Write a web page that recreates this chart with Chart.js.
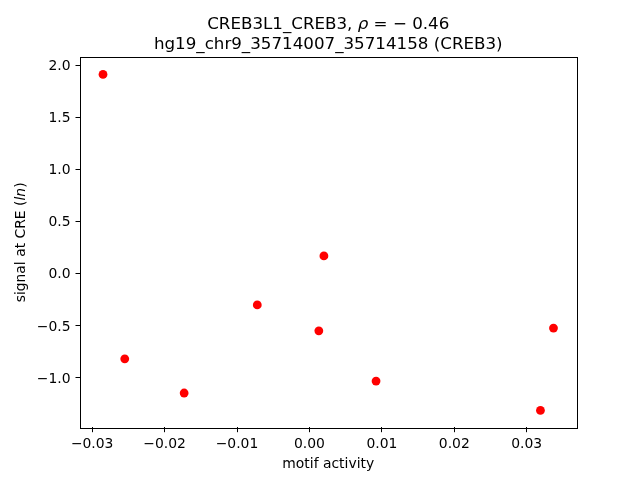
<!DOCTYPE html>
<html>
<head>
<meta charset="utf-8">
<script src="https://cdn.jsdelivr.net/npm/chart.js@4.4.1/dist/chart.umd.min.js"></script>
<style>
  html, body { margin: 0; padding: 0; background: #ffffff; }
  #wrap { width: 640px; height: 480px; }
</style>
</head>
<body>
<div id="wrap"><canvas id="c" width="640" height="480"></canvas></div>
<script>
// ---- data ----
const motifActivity = [-0.0285, -0.0255, -0.0173, -0.0072, 0.0013, 0.0020, 0.0092, 0.0319, 0.0337];
const signalAtCRE   = [1.917, -0.816, -1.145, -0.298, -0.547, 0.173, -1.030, -1.312, -0.521];
const xTickValues = [-0.03, -0.02, -0.01, 0.00, 0.01, 0.02, 0.03];
const yTickValues = [-1.0, -0.5, 0.0, 0.5, 1.0, 1.5, 2.0];
const titleLine1a = "CREB3L1_CREB3, ";
const titleRho = "\u03C1";
const titleLine1b = " = \u2212 0.46";
const titleLine2 = "hg19_chr9_35714007_35714158 (CREB3)";
const xLabel = "motif activity";
const yLabelA = "signal at CRE (";
const yLabelB = "ln";
const yLabelC = ")";

const FONT = "'DejaVu Sans', sans-serif";
const TICK_PX = 13.9;
const TITLE_PX = 16.7;

function pad5(lo, hi) { const r = hi - lo; return [lo - 0.05 * r, hi + 0.05 * r]; }
const [xMin, xMax] = pad5(Math.min(...motifActivity), Math.max(...motifActivity));
const [yMin, yMax] = pad5(Math.min(...signalAtCRE), Math.max(...signalAtCRE));

function fmt(v, d) {
  const s = Math.abs(v).toFixed(d);
  return (v < -1e-12 ? "\u2212" : "") + s;
}

const points = motifActivity.map((x, i) => ({ x: x, y: signalAtCRE[i] }));

const decor = {
  id: 'decor',
  afterDraw(chart) {
    const ctx = chart.ctx;
    const a = chart.chartArea;
    ctx.save();
    // frame
    ctx.strokeStyle = '#000';
    ctx.lineWidth = 1;
    ctx.strokeRect(Math.round(a.left) - 0.5, Math.round(a.top) - 0.5,
                   Math.round(a.right - a.left) + 1, Math.round(a.bottom - a.top) + 1);
    // title
    const cx = (a.left + a.right) / 2;
    ctx.fillStyle = '#000';
    ctx.textBaseline = 'alphabetic';
    ctx.textAlign = 'left';
    const fN = TITLE_PX + "px " + FONT;
    const fI = "oblique " + TITLE_PX + "px " + FONT;
    ctx.font = fN; const w1 = ctx.measureText(titleLine1a).width;
    const w3 = ctx.measureText(titleLine1b).width;
    ctx.font = fI; const w2 = ctx.measureText(titleRho).width;
    let x0 = cx - (w1 + w2 + w3) / 2;
    const b1 = 28.5;
    ctx.font = fN; ctx.fillText(titleLine1a, x0, b1);
    ctx.font = fI; ctx.fillText(titleRho, x0 + w1, b1);
    ctx.font = fN; ctx.fillText(titleLine1b, x0 + w1 + w2, b1);
    ctx.textAlign = 'center';
    ctx.fillText(titleLine2, cx, 49);
    // x label
    ctx.font = TICK_PX + "px " + FONT;
    ctx.fillText(xLabel, cx, 468);
    // y label (rotated, mixed italic)
    const cy = (a.top + a.bottom) / 2;
    ctx.translate(21.5, cy);
    ctx.rotate(-Math.PI / 2);
    ctx.textAlign = 'left';
    ctx.textBaseline = 'middle';
    const tN = TICK_PX + "px " + FONT;
    const tI = "oblique " + TICK_PX + "px " + FONT;
    ctx.font = tN; const ya = ctx.measureText(yLabelA).width; const yc = ctx.measureText(yLabelC).width;
    ctx.font = tI; const yb = ctx.measureText(yLabelB).width;
    const ys = -(ya + yb + yc) / 2;
    ctx.font = tN; ctx.fillText(yLabelA, ys, 0);
    ctx.font = tI; ctx.fillText(yLabelB, ys + ya, 0);
    ctx.font = tN; ctx.fillText(yLabelC, ys + ya + yb, 0);
    ctx.restore();
  }
};

new Chart(document.getElementById('c'), {
  type: 'scatter',
  data: {
    datasets: [{
      data: points,
      backgroundColor: '#ff0000',
      borderWidth: 0,
      pointRadius: 4.4,
      pointHoverRadius: 4.4
    }]
  },
  options: {
    responsive: false,
    animation: false,
    events: [],
    layout: { padding: { top: 57.6, right: 64, left: 0.5, bottom: 0 } },
    plugins: { legend: { display: false }, title: { display: false }, tooltip: { enabled: false } },
    scales: {
      x: {
        type: 'linear',
        min: xMin, max: xMax,
        afterBuildTicks(s) { s.ticks = xTickValues.map(v => ({ value: v })); },
        afterFit(s) { s.height = 52.8; },
        ticks: {
          color: '#000', padding: 4,
          font: { family: FONT, size: TICK_PX },
          maxRotation: 0, autoSkip: false,
          callback: (v) => fmt(v, 2)
        },
        grid: { drawOnChartArea: false, drawTicks: true, tickLength: 5, color: '#000', tickColor: '#000' },
        border: { display: false }
      },
      y: {
        type: 'linear',
        min: yMin, max: yMax,
        afterBuildTicks(s) { s.ticks = yTickValues.map(v => ({ value: v })); },
        afterFit(s) { s.width = 80; },
        ticks: {
          color: '#000', padding: 5, labelOffset: 1,
          font: { family: FONT, size: TICK_PX },
          autoSkip: false,
          callback: (v) => fmt(v, 1)
        },
        grid: { drawOnChartArea: false, drawTicks: true, tickLength: 5, color: '#000', tickColor: '#000' },
        border: { display: false }
      }
    }
  },
  plugins: [decor]
});
</script>
</body>
</html>
